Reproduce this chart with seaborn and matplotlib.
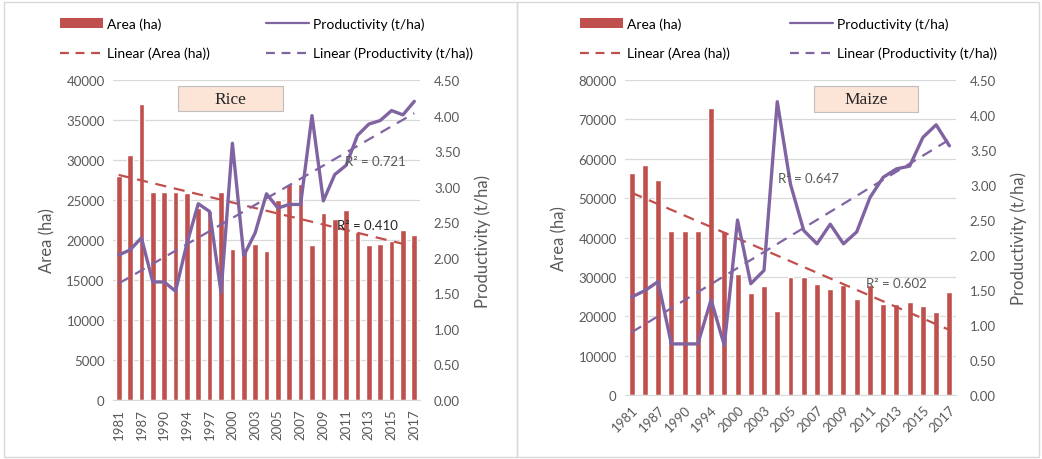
import numpy as np
import matplotlib
matplotlib.use("Agg")
import matplotlib.pyplot as plt
from matplotlib.patches import Rectangle, Patch
from matplotlib.lines import Line2D
from matplotlib.ticker import FormatStrFormatter
import seaborn as sns

# ==== 数据 ====
rice_years = [1981, 1984, 1987, 1988, 1990, 1992, 1994, 1995, 1997, 1998, 2000, 2001,
              2003, 2004, 2005, 2006, 2007, 2008, 2009, 2010, 2011, 2012, 2013, 2014,
              2015, 2016, 2017]
rice_area = [28000, 30600, 37000, 26000, 26000, 26000, 25900, 24000, 23600, 26000,
             18900, 18700, 19500, 18600, 25000, 27000, 27000, 19400, 23400, 22600,
             23800, 21000, 19400, 19500, 19900, 21300, 20600]
rice_prod = [2.04, 2.11, 2.28, 1.66, 1.66, 1.53, 2.20, 2.76, 2.65, 1.51, 3.61, 2.03,
             2.35, 2.90, 2.70, 2.75, 2.75, 4.00, 2.80, 3.17, 3.30, 3.72, 3.88, 3.93,
             4.07, 4.01, 4.20]
rice_r2 = ["R² = 0.721", "R² = 0.410"]

maize_years = [1981, 1984, 1987, 1988, 1990, 1992, 1994, 1997, 2000, 2001,
               2003, 2004, 2005, 2006, 2007, 2008, 2009, 2010, 2011, 2012,
               2013, 2014, 2015, 2016, 2017]
maize_area = [56400, 58300, 54600, 41600, 41600, 41600, 72900, 41600, 30700, 25800,
              27600, 21300, 30000, 30000, 28200, 27000, 28000, 24300, 28000, 23100,
              23100, 23600, 22500, 21000, 26100]
maize_prod = [1.40, 1.49, 1.62, 0.73, 0.73, 0.73, 1.36, 0.71, 2.50, 1.59,
              1.78, 4.19, 3.01, 2.35, 2.16, 2.44, 2.16, 2.33, 2.82, 3.11,
              3.23, 3.27, 3.68, 3.86, 3.56]
maize_r2 = ["R² = 0.647", "R² = 0.602"]

RED = "#C0504D"
PURPLE = "#8064A2"
GREY = "#595959"
GRID = "#D9D9D9"
DASH = (5, 3.5)

sns.set_style("white")
plt.rcParams["font.family"] = ["Lato", "DejaVu Sans"]

W, H = 1042, 460
fig = plt.figure(figsize=(W / 100, H / 100), dpi=100)


def fx(px):
    return px / W


def fy(py):
    return 1 - py / H


def draw_panel(rect, years, area, prod, area_max, area_step, title, title_box,
               r2_text, r2_pos, r2_colors, rot, bar_w):
    n = len(years)
    idx = np.arange(n)
    labels = [str(y) for y in years]

    ax = fig.add_axes(rect)
    sns.barplot(x=labels, y=area, color=RED, saturation=1, width=bar_w, ax=ax, zorder=2)
    # 面积趋势线
    sns.regplot(x=idx, y=np.array(area, dtype=float), scatter=False, ci=None, ax=ax,
                color=RED, line_kws=dict(lw=1.6, dashes=DASH, zorder=3))
    ax.set_ylim(0, area_max)
    ax.set_yticks(np.arange(0, area_max + 1, area_step))
    ax.set_xlim(-0.5, n - 0.5)
    ax.grid(axis="y", color=GRID, lw=0.9, zorder=0)
    ax.set_axisbelow(True)
    for s in ["top", "left", "right"]:
        ax.spines[s].set_visible(False)
    ax.spines["bottom"].set_color(GRID)
    ax.set_xticks(idx[::2])
    if rot == 90:
        ax.set_xticklabels(labels[::2], rotation=90)
    else:
        ax.set_xticklabels(labels[::2], rotation=45, ha="right", rotation_mode="anchor")
    ax.tick_params(axis="both", length=0, labelsize=9.5, labelcolor=GREY, pad=6)
    ax.set_xlabel("")
    ax.set_ylabel("Area (ha)", fontsize=12, color=GREY, labelpad=8)

    ax2 = ax.twinx()
    sns.lineplot(x=idx, y=prod, color=PURPLE, lw=2.4, ax=ax2, zorder=4)
    sns.regplot(x=idx, y=np.array(prod, dtype=float), scatter=False, ci=None, ax=ax2,
                color=PURPLE, line_kws=dict(lw=1.6, dashes=DASH, zorder=3))
    ax2.set_ylim(0, 4.5)
    ax2.set_yticks(np.arange(0, 4.51, 0.5))
    ax2.yaxis.set_major_formatter(FormatStrFormatter("%.2f"))
    ax2.set_xlim(-0.5, n - 0.5)
    for s in ax2.spines.values():
        s.set_visible(False)
    ax2.tick_params(axis="y", length=0, labelsize=9.5, labelcolor=GREY, pad=10)
    ax2.set_ylabel("Productivity (t/ha)", fontsize=12, color=GREY, labelpad=10)
    ax2.set_xlabel("")

    # 标题框
    x0, y0, x1, y1 = title_box
    fig.patches.append(Rectangle((fx(x0), fy(y1)), fx(x1 - x0), (y1 - y0) / H,
                                 transform=fig.transFigure, facecolor="#FCE4D6",
                                 edgecolor="#BFBFBF", lw=0.8, zorder=5))
    fig.text(fx((x0 + x1) / 2), fy((y0 + y1) / 2), title, ha="center", va="center",
             fontsize=12.5, family=["Liberation Serif", "DejaVu Serif"], zorder=6)

    # R² 标注
    for txt, (px, py), c in zip(r2_text, r2_pos, r2_colors):
        fig.text(fx(px), fy(py), txt, fontsize=9.5, color=c, va="center", zorder=6)
    return ax, ax2


def draw_legend(x_col1, x_col2):
    h_area = Patch(facecolor=RED, edgecolor="none")
    h_lin_area = Line2D([], [], color=RED, lw=1.6, dashes=(4, 3))
    h_prod = Line2D([], [], color=PURPLE, lw=1.6)
    h_lin_prod = Line2D([], [], color=PURPLE, lw=1.6, dashes=(4, 3))
    common = dict(loc="upper left", frameon=False, fontsize=10, handlelength=3.1,
                  handletextpad=0.3, labelspacing=1.25, borderpad=0, borderaxespad=0,
                  bbox_transform=fig.transFigure, labelcolor="black")
    leg1 = fig.legend([h_area, h_lin_area], ["Area (ha)", "Linear (Area (ha))"],
                      bbox_to_anchor=(fx(x_col1), fy(18)), **common)
    leg2 = fig.legend([h_prod, h_lin_prod], ["Productivity (t/ha)", "Linear (Productivity (t/ha))"],
                      bbox_to_anchor=(fx(x_col2), fy(18)), **common)
    return leg1, leg2


# 面板边框
fig.patches.append(Rectangle((fx(4), fy(458)), fx(513), 455 / H, transform=fig.transFigure,
                             fill=False, edgecolor=GRID, lw=1))
fig.patches.append(Rectangle((fx(517), fy(458)), fx(522), 455 / H, transform=fig.transFigure,
                             fill=False, edgecolor=GRID, lw=1))

draw_panel([fx(113), fy(401), fx(307), 320 / H], rice_years, rice_area, rice_prod,
           40000, 5000, "Rice", (178, 87, 283, 112), rice_r2,
           ((345, 162), (337, 226)), (GREY, "#262626"), 90, 0.5)
draw_panel([fx(625), fy(396), fx(331), 315 / H], maize_years, maize_area, maize_prod,
           80000, 10000, "Maize", (814, 87, 918, 113), maize_r2,
           ((778, 179), (866, 284)), (GREY, GREY), 45, 0.45)

draw_legend(60, 266)
draw_legend(580, 790)

fig.savefig("out.png", dpi=100)
